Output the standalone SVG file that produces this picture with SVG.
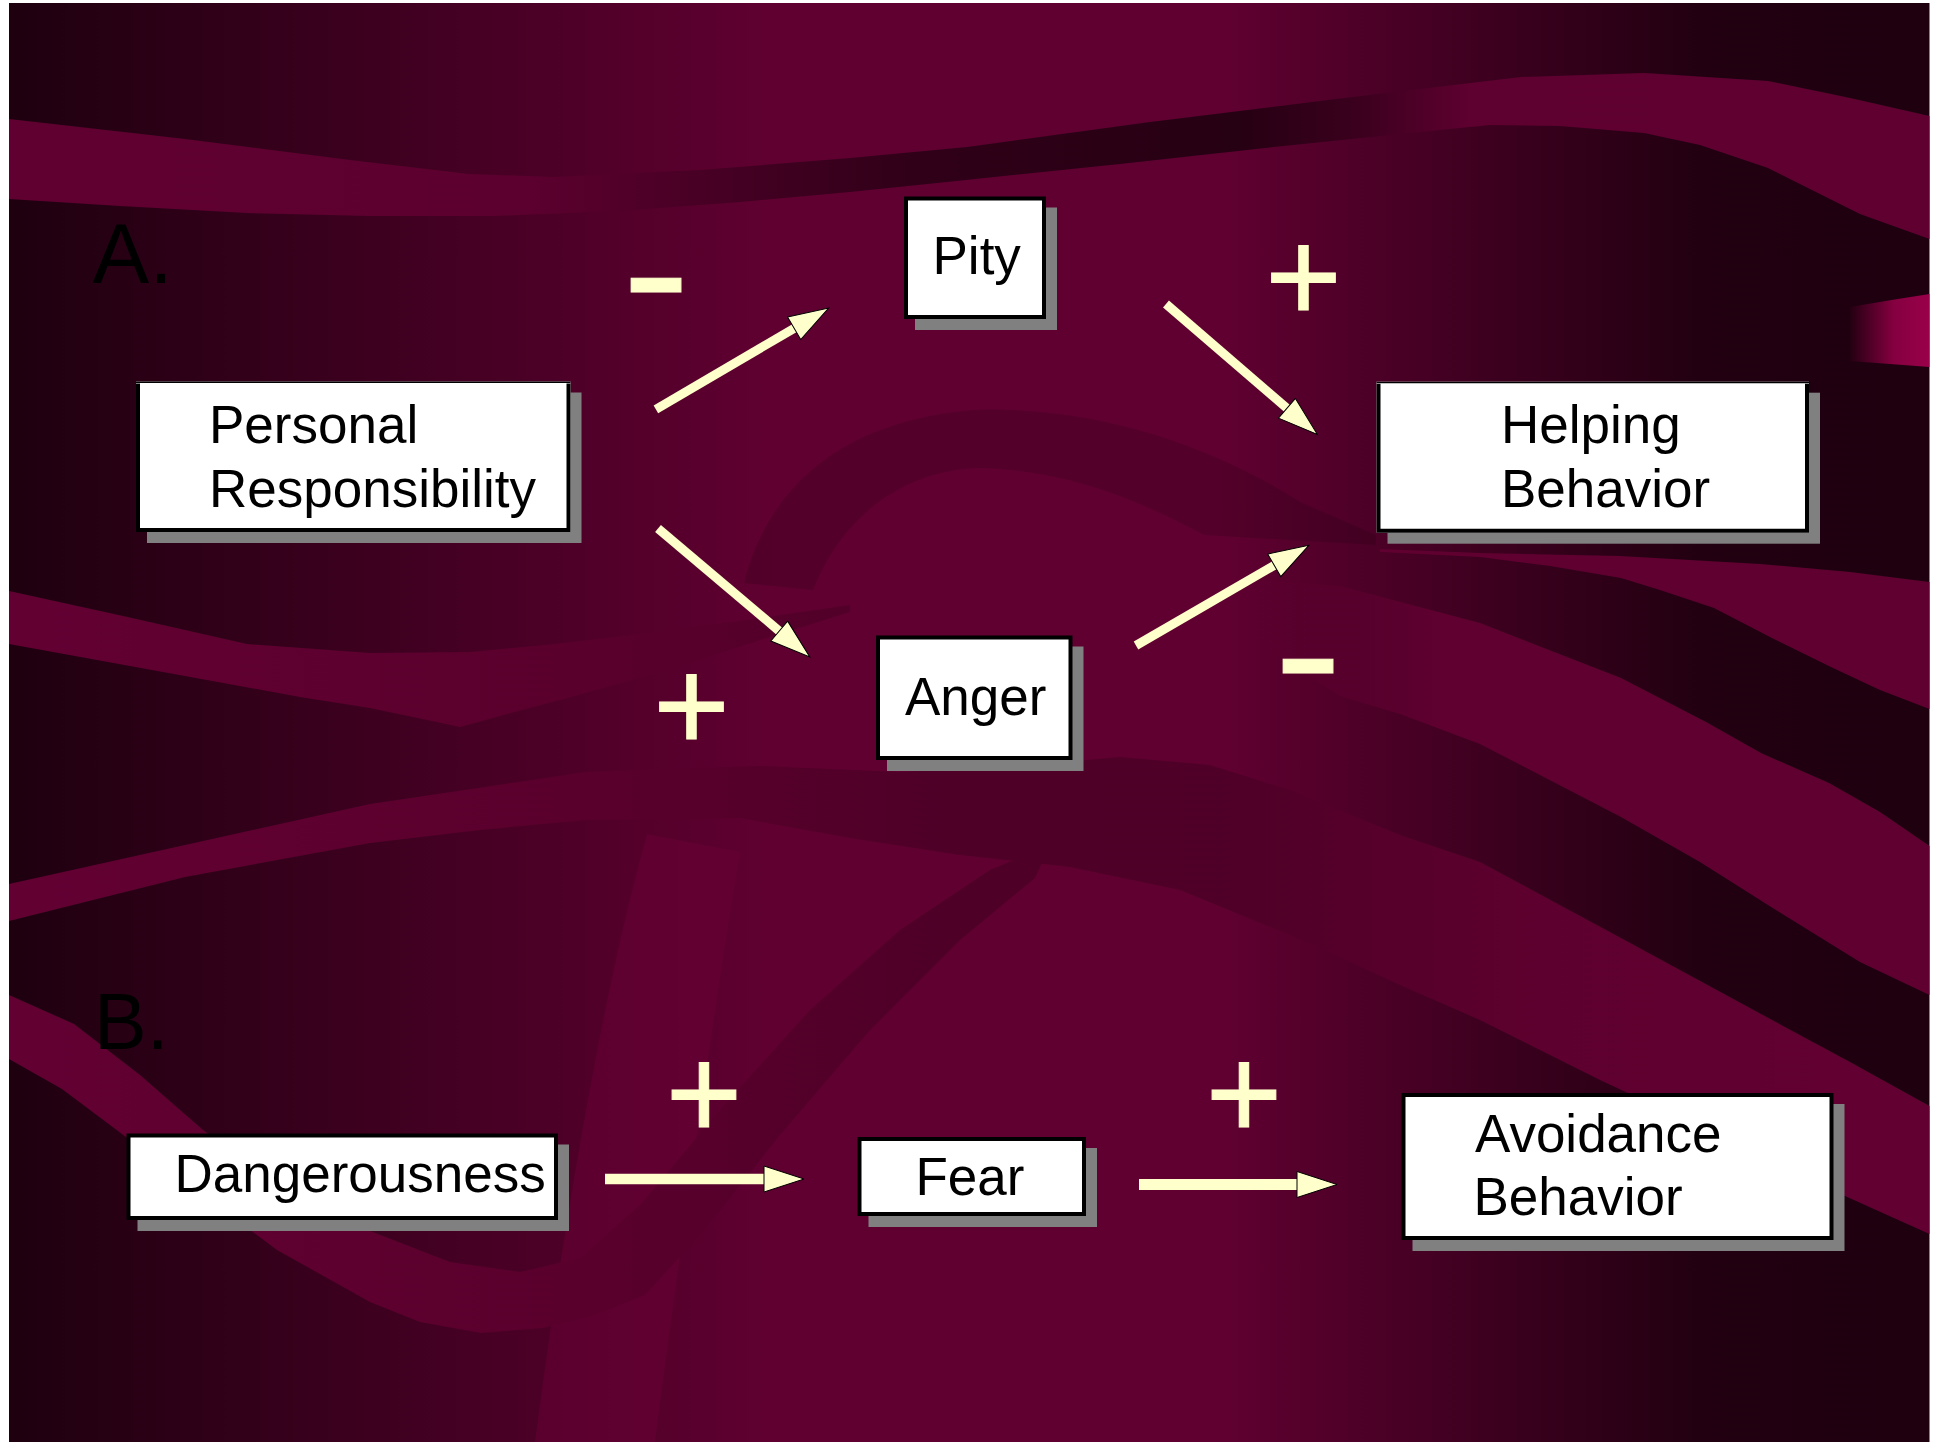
<svg xmlns="http://www.w3.org/2000/svg" width="1933" height="1442" viewBox="0 0 1933 1442">
<defs>
<linearGradient id="gBase" gradientUnits="userSpaceOnUse" x1="9" y1="0" x2="1930" y2="0">
<stop offset="0" stop-color="#1e000f"/><stop offset="0.4" stop-color="#600031"/><stop offset="0.63" stop-color="#600031"/><stop offset="0.88" stop-color="#220011"/><stop offset="1" stop-color="#1e000f"/>
</linearGradient>
<linearGradient id="gTop" gradientUnits="userSpaceOnUse" x1="9" y1="0" x2="1930" y2="0">
<stop offset="0" stop-color="#600031"/><stop offset="0.27" stop-color="#5c002f"/><stop offset="0.47" stop-color="#300018"/><stop offset="0.64" stop-color="#260013"/><stop offset="0.7" stop-color="#3a001d"/><stop offset="0.76" stop-color="#5e0030"/><stop offset="1" stop-color="#600031"/>
</linearGradient>
<linearGradient id="gC" gradientUnits="userSpaceOnUse" x1="9" y1="0" x2="1930" y2="0">
<stop offset="0" stop-color="#620032"/><stop offset="0.3" stop-color="#5a002d"/><stop offset="0.5" stop-color="#4e0027"/><stop offset="0.65" stop-color="#500028"/><stop offset="0.8" stop-color="#5e002f"/><stop offset="1" stop-color="#620032"/>
</linearGradient>
<linearGradient id="gR" gradientUnits="userSpaceOnUse" x1="1250" y1="0" x2="1450" y2="0">
<stop offset="0" stop-color="#600031" stop-opacity="0"/><stop offset="1" stop-color="#600031"/>
</linearGradient>
<linearGradient id="gP" gradientUnits="userSpaceOnUse" x1="1850" y1="0" x2="1930" y2="0">
<stop offset="0" stop-color="#240012"/><stop offset="0.55" stop-color="#850040"/><stop offset="1" stop-color="#9a004a"/>
</linearGradient>
<marker id="ah" markerUnits="userSpaceOnUse" markerWidth="44" markerHeight="30" viewBox="-1 -15 44 30" refX="1" refY="0" orient="auto">
<path d="M0,-13 L40,0 L0,13 Z" fill="#ffffcc" stroke="#000" stroke-width="1"/>
</marker>
<style>
.sh{fill:#808080}
.bx{fill:#fff;stroke:#000;stroke-width:4}
.wf{fill:#fff}
.edge{fill:none;stroke:#000;stroke-width:4}
.thin{fill:none;stroke:#000;stroke-width:1.5}
.lbl{font-family:"Liberation Sans",Arial,Helvetica,sans-serif;font-size:53px;fill:#000}
.sec{font-family:"Liberation Sans",Arial,Helvetica,sans-serif;fill:#000}
.sign{font-family:"Liberation Sans",Arial,Helvetica,sans-serif;fill:#ffffcc;stroke:#ffffcc;stroke-width:1;text-anchor:middle}
.arw{fill:none;stroke:#ffffcc;marker-end:url(#ah)}
</style>
</defs>

<g id="background">
<rect x="9" y="3" width="1920.5" height="1439" fill="url(#gBase)"/>
<path fill="url(#gTop)" d="M9,119 L185,139 L350,160 L469,174 L555,177 L700,170 L850,158 L967,147 L1150,122 L1336,99 L1521,77 L1644,73 L1768,81 L1850,98 L1929.5,116 L1929.5,239 L1860,214 L1800,184 L1768,168 L1700,145 L1644,133 L1560,126 L1490,125 L1400,134 L1274,147 L1120,164 L966,180 L850,192 L740,202 L620,211 L493,216 L370,216 L247,213 L120,206 L9,199 Z"/>
<path fill="url(#gP)" d="M1850,307 Q1890,300 1929.5,294 L1929.5,367 Q1890,364 1850,361 Z"/>
<path fill="url(#gC)" d="M9,591 L123,616 L247,644 L370,653 L470,652 L555,644 L650,633 L740,621 L850,605 L850,612 L760,640 L660,672 L560,700 L500,716 L460,727 L432,721 L370,708 L300,697 L185,676 L9,644 Z"/>
<path fill="#000" fill-opacity="0.13" d="M744,583 C770,480 850,420 974,410 C1100,405 1220,450 1300,502 L1376,535 L1376,545 L1204,535 C1130,495 1060,470 980,468 C900,470 840,520 813,590 Z"/>
<path fill="#6a0036" fill-opacity="0.5" d="M647,834 L740,852 C715,1000 680,1250 655,1442 L535,1442 C560,1250 600,1000 647,834 Z"/>
<path fill="url(#gC)" d="M9,884 L185,845 L370,804 L586,772 L760,766 L900,772 L1020,766 L1120,757 L1210,765 L1290,790 L1400,835 L1480,862 L1621,938 L1761,1014 L1850,1062 L1929.5,1106 L1929.5,1234 L1845,1196 L1750,1150 L1600,1080 L1480,1020 L1400,985 L1290,935 L1180,890 L1070,867 L960,855 L850,838 L740,818 L586,820 L480,830 L370,843 L185,877 L9,921 Z"/>
<path fill="url(#gR)" d="M1230,578 L1340,586 L1480,623 L1621,678 L1706,722 L1761,753 L1829,783 L1880,812 L1929.5,846 L1929.5,995 L1860,962 L1768,905 L1700,862 L1621,817 L1540,775 L1480,744 L1400,714 L1340,696 L1270,650 L1230,600 Z"/>
<path fill="#600031" d="M1380,549 L1480,553 L1620,556 L1760,564 L1850,572 L1929.5,582 L1929.5,709 L1880,690 L1831,667 L1770,637 L1714,608 L1660,590 L1621,578 L1550,566 L1480,557 L1380,552 Z"/>
<path fill="url(#gC)" d="M9,995 L74,1024 L140,1075 L203,1130 L290,1195 L370,1231 L450,1262 L520,1272 L580,1258 L640,1205 L720,1110 L810,1010 L900,930 L990,870 L1050,845 L1035,878 L960,940 L870,1030 L780,1135 L700,1235 L645,1295 L592,1316 L543,1328 L481,1333 L420,1322 L370,1302 L277,1250 L154,1158 L62,1089 L9,1059 Z"/>
</g>

<g id="section-labels">
<text class="sec" x="92.5" y="282.5" font-size="85">A.</text>
<text class="sec" x="94" y="1048.5" font-size="79">B.</text>
</g>

<g id="connectors">
<path class="arw" stroke-width="9" d="M655.9,409.3 L795,327.8"/>
<path class="arw" stroke-width="9" d="M1166,304 L1287.7,408.9"/>
<path class="arw" stroke-width="9" d="M658,528.5 L780,631.7"/>
<path class="arw" stroke-width="9" d="M1136,645.5 L1275.1,564.8"/>
<path class="arw" stroke-width="10.5" d="M605,1179 L765,1179"/>
<path class="arw" stroke-width="11" d="M1139,1184.5 L1298,1184.5"/>
</g>

<g id="signs">
<text class="sign" transform="translate(656,331.8) scale(1.16,1)" font-size="175">-</text>
<text class="sign" x="1303.5" y="322" font-size="131">+</text>
<text class="sign" x="691.5" y="751" font-size="131">+</text>
<text class="sign" transform="translate(1308,712.6) scale(1.16,1)" font-size="175">-</text>
<text class="sign" x="704" y="1139" font-size="131">+</text>
<text class="sign" x="1244" y="1139" font-size="131">+</text>
</g>

<g id="node-personal-responsibility">
<rect class="sh" x="147" y="392.5" width="434.5" height="150.5"/>
<rect class="wf" x="136" y="381.5" width="434.5" height="150.5"/>
<path class="edge" d="M138,383.5 V530 H568.5 V383.5"/>
<path class="thin" d="M136,382.25 H570.5"/>
<text class="lbl" x="209" y="443">Personal</text>
<text class="lbl" x="209" y="507">Responsibility</text>
</g>

<g id="node-pity">
<rect class="sh" x="915" y="207.5" width="142" height="122.5"/>
<rect class="bx" x="906" y="198.5" width="138" height="118.5"/>
<text class="lbl" x="932.5" y="273.5">Pity</text>
</g>

<g id="node-anger">
<rect class="sh" x="887" y="646.5" width="196.5" height="124.5"/>
<rect class="bx" x="878" y="637.5" width="192.5" height="120.5"/>
<text class="lbl" x="905" y="714.5">Anger</text>
</g>

<g id="node-helping-behavior">
<rect class="sh" x="1387.5" y="392.7" width="432.5" height="151"/>
<rect class="wf" x="1376.5" y="381.7" width="432.5" height="151"/>
<path class="edge" d="M1378.5,383.7 V530.7 H1807 V383.7"/>
<path class="thin" d="M1376.5,382.45 H1809"/>
<text class="lbl" x="1501" y="443">Helping</text>
<text class="lbl" x="1501" y="506.5">Behavior</text>
</g>

<g id="node-dangerousness">
<rect class="sh" x="137.5" y="1144.5" width="431.5" height="86.5"/>
<rect class="bx" x="128.5" y="1135.5" width="427.5" height="82.5"/>
<text class="lbl" x="174.5" y="1192">Dangerousness</text>
</g>

<g id="node-fear">
<rect class="sh" x="868.5" y="1148" width="228.5" height="79"/>
<rect class="bx" x="859.5" y="1139" width="224.5" height="75"/>
<text class="lbl" x="915.5" y="1194.5">Fear</text>
</g>

<g id="node-avoidance-behavior">
<rect class="sh" x="1412.5" y="1104" width="432" height="147"/>
<rect class="bx" x="1403.5" y="1095" width="428" height="143"/>
<text class="lbl" x="1475" y="1152">Avoidance</text>
<text class="lbl" x="1473.5" y="1215">Behavior</text>
</g>
</svg>
